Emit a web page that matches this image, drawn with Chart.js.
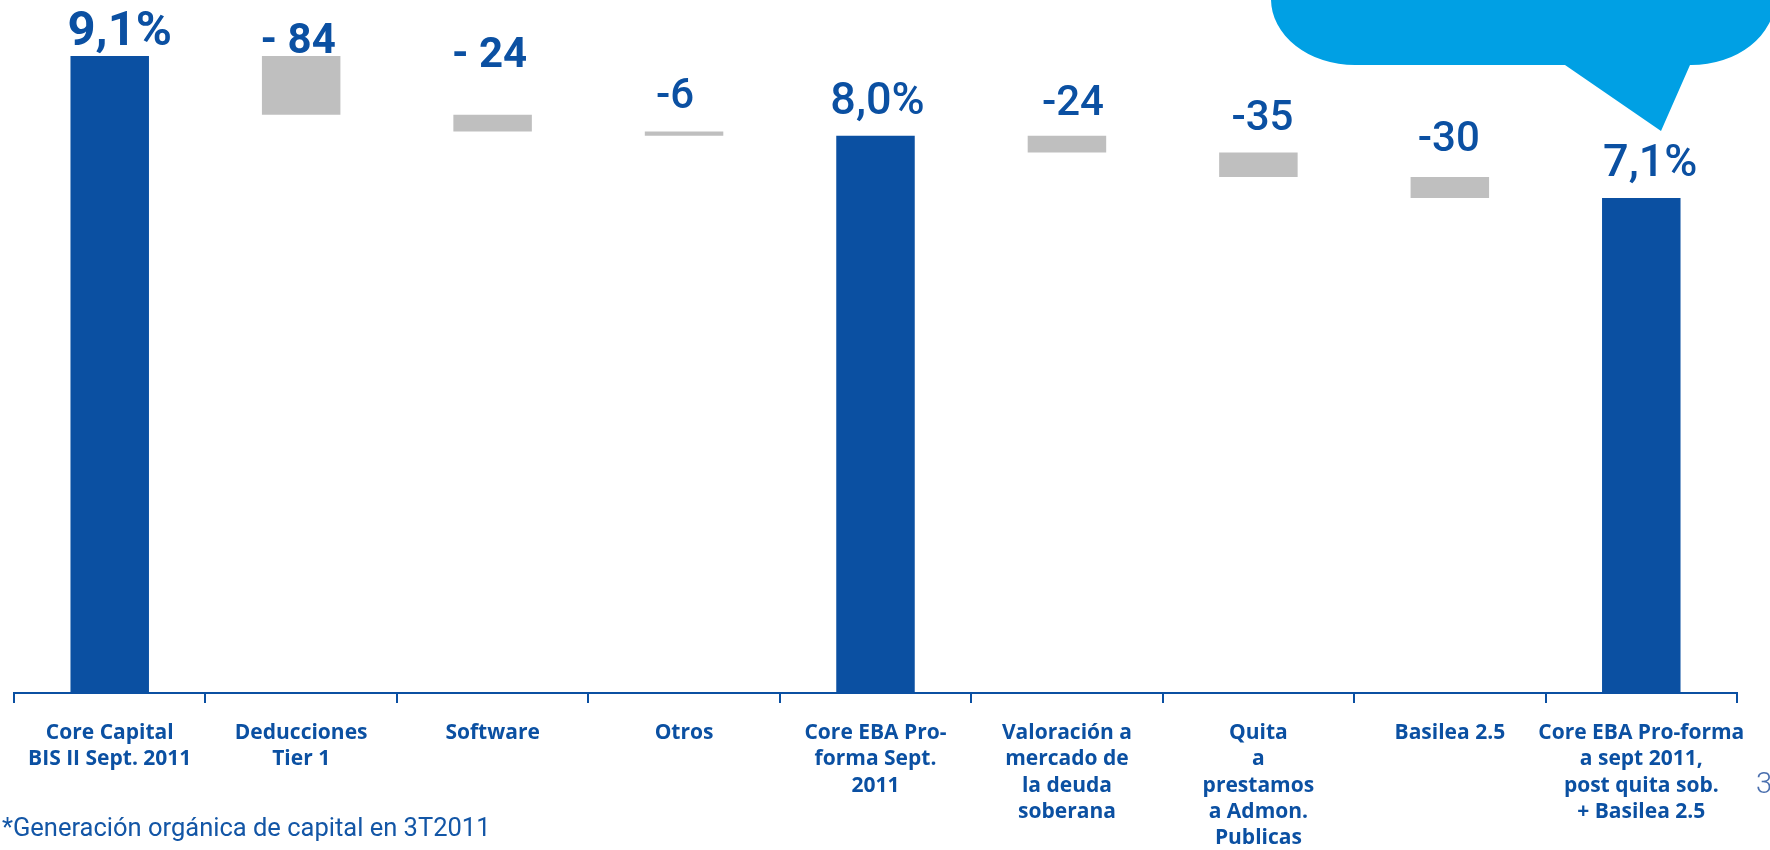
<!DOCTYPE html>
<html>
<head>
<meta charset="utf-8">
<script src="https://cdn.jsdelivr.net/npm/chart.js@4.4.1/dist/chart.umd.min.js"></script>
<style>
    html, body { margin: 0; padding: 0; background: #ffffff; }
    #wrap { position: relative; width: 1770px; height: 850px; overflow: hidden; }
    #note { position: absolute; left: 2px; top: 812px; font: 400 25.5px Roboto, sans-serif; color: #1356a6; white-space: nowrap; }
    #page { position: absolute; left: 1756px; top: 766px; font: 300 29px Roboto, sans-serif; color: #4a6fae; }
</style>
</head>
<body>
<div id="wrap">
    <canvas id="waterfall" width="1770" height="850"></canvas>
    <div id="note">*Generación orgánica de capital en 3T2011</div>
    <div id="page">3</div>
</div>
<script>
// Categorías del eje X (varias líneas)
const categories = [
    ['Core Capital', 'BIS II Sept. 2011'],
    ['Deducciones', 'Tier 1'],
    ['Software'],
    ['Otros'],
    ['Core EBA Pro-', 'forma Sept.', '2011'],
    ['Valoración a', 'mercado de', 'la deuda', 'soberana'],
    ['Quita', 'a', 'prestamos', 'a Admon.', 'Publicas'],
    ['Basilea 2.5'],
    ['Core EBA Pro-forma', 'a sept 2011,', 'post quita sob.', '+ Basilea 2.5']
];

// Punto de partida en %, variaciones en puntos básicos, subtotales acumulados
const stepKind = ['start', 'delta', 'delta', 'delta', 'subtotal', 'delta', 'delta', 'delta', 'subtotal'];
const stepValues = [9.1, -84, -24, -6, 8.0, -24, -35, -30, 7.1];
const valueLabels = ['9,1%', '- 84', '- 24', '-6', '8,0%', '-24', '-35', '-30', '7,1%'];

const BLUE = '#0b50a2';
const GREY = '#bfbfbf';

// Construir barras flotantes a partir de los pasos
function buildRanges() {
    let level = 0;
    return stepValues.map((v, i) => {
        if (stepKind[i] === 'start') {
            level = v;
            return [0, v];
        }
        if (stepKind[i] === 'subtotal') {
            // la barra de subtotal llega al nivel acumulado
            return [0, level];
        }
        const start = level;
        level = level + v / 100;
        return [level, start];
    });
}

// Etiquetas de valor encima de cada barra
const valueLabelPlugin = {
    id: 'valueLabels',
    afterDatasetsDraw(chart, args, opts) {
        const ctx = chart.ctx;
        const meta = chart.getDatasetMeta(0);
        ctx.save();
        ctx.fillStyle = BLUE;
        ctx.textAlign = 'center';
        ctx.textBaseline = 'alphabetic';
        meta.data.forEach((bar, i) => {
            const top = Math.min(bar.y, bar.base);
            const size = stepKind[i] === 'delta' ? 42 : (i === 0 ? 49 : 45);
            const weight = (i === 1 || i === 2 || i === 0) ? 700 : 500;
            ctx.font = weight + ' ' + size + 'px Roboto, sans-serif';
            ctx.fillText(valueLabels[i], bar.x + opts.shift[i], top - opts.lift[i]);
        });
        ctx.restore();
    }
};

// Bocadillo azul de la esquina superior derecha
const calloutPlugin = {
    id: 'callout',
    afterDraw(chart) {
        const ctx = chart.ctx;
        const left = 1271, right = 1775, bottom = 65, top = -40;
        const rx = 84, ry = 66;
        ctx.save();
        ctx.fillStyle = '#00a0e4';
        ctx.beginPath();
        ctx.moveTo(left, top);
        ctx.lineTo(left, bottom - ry);
        ctx.ellipse(left + rx, bottom - ry, rx, ry, 0, Math.PI, Math.PI / 2, true);
        ctx.lineTo(1565, bottom);
        ctx.lineTo(1661, 131);
        ctx.lineTo(1690, bottom);
        ctx.lineTo(right - rx, bottom);
        ctx.ellipse(right - rx, bottom - ry, rx, ry, 0, Math.PI / 2, 0, true);
        ctx.lineTo(right, top);
        ctx.closePath();
        ctx.fill();
        ctx.restore();
    }
};

const ctx = document.getElementById('waterfall').getContext('2d');
new Chart(ctx, {
    type: 'bar',
    data: {
        labels: categories,
        datasets: [{
            data: buildRanges(),
            backgroundColor: stepKind.map(k => k === 'delta' ? GREY : BLUE),
            borderWidth: 0,
            borderSkipped: false,
            categoryPercentage: 1,
            barPercentage: 0.41
        }]
    },
    options: {
        responsive: false,
        animation: false,
        layout: { padding: { left: 14, right: 33, top: 0, bottom: 0 } },
        scales: {
            y: { display: false, min: 0, max: 9.9 },
            x: {
                afterFit: (scale) => { scale.height = 157; },
                border: { display: true, color: BLUE, width: 2 },
                grid: {
                    offset: true,
                    drawOnChartArea: false,
                    drawTicks: true,
                    tickLength: 10,
                    color: BLUE,
                    lineWidth: 2
                },
                ticks: {
                    autoSkip: false,
                    maxRotation: 0,
                    padding: 17,
                    color: BLUE,
                    font: { family: 'Open Sans', size: 21, weight: '700', lineHeight: 1.25 }
                }
            }
        },
        plugins: {
            legend: { display: false },
            tooltip: { enabled: false },
            valueLabels: {
                lift: [11, 3, 48, 24, 22, 21, 23, 26, 22],
                shift: [10, -3, -3, -9, 2, 6, 4, -1, 9]
            }
        }
    },
    plugins: [valueLabelPlugin, calloutPlugin]
});
</script>
</body>
</html>
